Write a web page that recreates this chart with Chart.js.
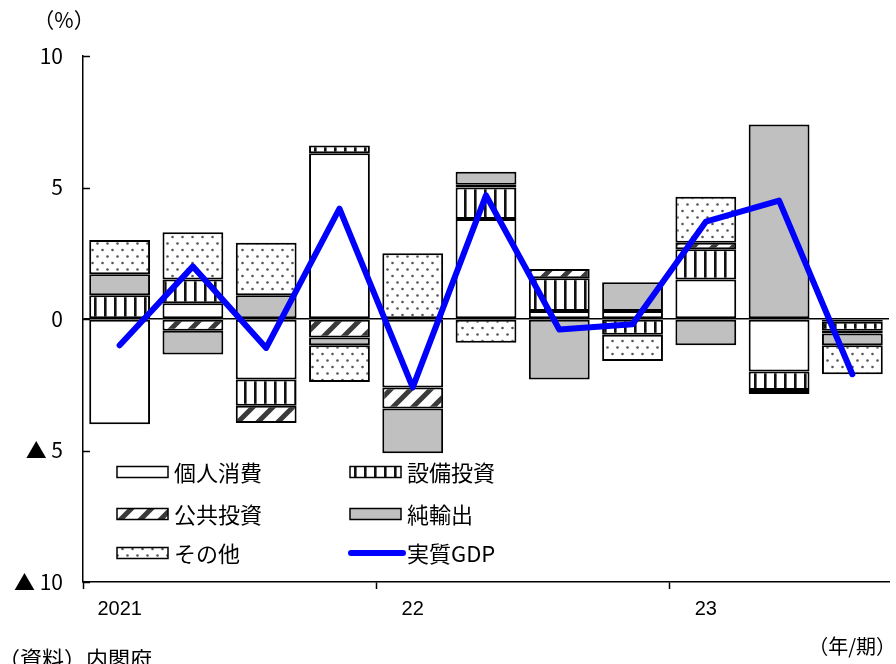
<!DOCTYPE html>
<html lang="ja">
<head>
<meta charset="utf-8">
<script src="https://cdn.jsdelivr.net/npm/chart.js@4.4.1/dist/chart.umd.min.js"></script>
<style>
  html, body { margin: 0; padding: 0; background: #fff; }
  #wrap { position: relative; width: 896px; height: 664px; }
</style>
</head>
<body>
<div id="wrap"><canvas id="c" width="896" height="664"></canvas></div>
<script>
// Quarterly contributions to real GDP growth (annualised, %)
const quarters = ['2021/1-3', '2021/4-6', '2021/7-9', '2021/10-12',
                  '2022/1-3', '2022/4-6', '2022/7-9', '2022/10-12',
                  '2023/1-3', '2023/4-6', '2023/7-9'];
const yearTickLabels = ['2021', '', '', '', '22', '', '', '', '23', '', ''];

const consumption = [-4.0, 0.6, -2.3, 6.3, -2.6, 3.8, 0.3, 0.3, 1.5, -2.0, -0.1];
const capex       = [0.9, 0.9, -1.0, 0.3, null, 1.2, 1.25, -0.6, 1.15, -0.7, -0.35];
const publicInv   = [null, -0.45, -0.65, -0.7, -0.8, 0.1, 0.35, null, 0.25, null, -0.1];
const netExports  = [0.8, -0.9, 0.9, -0.3, -1.7, 0.5, -2.3, 1.1, -1.0, 7.4, -0.45];
const others      = [1.3, 1.8, 2.0, -1.4, 2.5, -0.9, null, -1.0, 1.75, -0.15, -1.1];
const realGdp     = [-1.0, 2.0, -1.1, 4.2, -2.6, 4.7, -0.4, -0.2, 3.7, 4.5, -2.1];

const seriesNames = ['個人消費', '設備投資', '公共投資', '純輸出', 'その他', '実質GDP'];

const FONT = "'Liberation Sans', 'Noto Sans CJK JP', sans-serif";
const JFONT = "'Noto Sans CJK JP', 'Liberation Sans', sans-serif";

// ---- fill patterns ----
function makeTile(w, h, draw) {
  const cv = document.createElement('canvas');
  cv.width = w; cv.height = h;
  const g = cv.getContext('2d');
  g.fillStyle = '#fff';
  g.fillRect(0, 0, w, h);
  draw(g);
  return document.getElementById('c').getContext('2d').createPattern(cv, 'repeat');
}
const vStripes = makeTile(10, 10, g => {
  g.fillStyle = '#111';
  g.fillRect(4, 0, 2.6, 10);
});
const diagStripes = makeTile(20, 20, g => {
  g.strokeStyle = '#3a3a3a';
  g.lineWidth = 5;
  g.beginPath();
  for (let k = -1; k <= 1; k++) {
    g.moveTo(-5 + k * 20, 25);
    g.lineTo(25 + k * 20, -5);
  }
  g.stroke();
});
const dots = makeTile(10, 13, g => {
  g.fillStyle = '#555';
  g.beginPath(); g.arc(2.5, 3, 1.3, 0, Math.PI * 2); g.fill();
  g.beginPath(); g.arc(7.5, 9.5, 1.3, 0, Math.PI * 2); g.fill();
});

const barStyle = {
  type: 'bar',
  borderColor: '#000',
  borderWidth: 2,
  borderSkipped: false,
  order: 1,
  barPercentage: 0.83,
  categoryPercentage: 1.0
};

const datasets = [
  Object.assign({}, barStyle, { label: seriesNames[0], data: consumption, backgroundColor: '#ffffff' }),
  Object.assign({}, barStyle, { label: seriesNames[1], data: capex, backgroundColor: vStripes }),
  Object.assign({}, barStyle, { label: seriesNames[2], data: publicInv, backgroundColor: diagStripes }),
  Object.assign({}, barStyle, { label: seriesNames[3], data: netExports, backgroundColor: '#c0c0c0' }),
  Object.assign({}, barStyle, { label: seriesNames[4], data: others, backgroundColor: dots }),
  {
    type: 'line', label: seriesNames[5], data: realGdp, stack: 'gdp',
    borderColor: '#0000ff', borderWidth: 6, pointRadius: 0, tension: 0,
    fill: false, borderCapStyle: 'round', borderJoinStyle: 'round', order: 0
  }
];

// inward y tick marks, legend block and free-standing notes
const decorations = {
  id: 'decorations',
  afterDraw(chart) {
    const { ctx, chartArea, scales: { y } } = chart;
    ctx.save();
    ctx.strokeStyle = '#000';
    ctx.lineWidth = 1.5;
    y.ticks.forEach(t => {
      const py = Math.round(y.getPixelForValue(t.value)) + 0.5;
      ctx.beginPath();
      ctx.moveTo(chartArea.left, py);
      ctx.lineTo(chartArea.left + 7, py);
      ctx.stroke();
    });

    // legend: two columns, three rows
    const cols = [117, 350];
    const rows = [472, 514, 553];
    chart.data.datasets.forEach((ds, i) => {
      const x = cols[i % 2];
      const yy = rows[Math.floor(i / 2)];
      if (ds.type === 'line') {
        ctx.strokeStyle = ds.borderColor;
        ctx.lineWidth = 6;
        ctx.lineCap = 'round';
        ctx.beginPath();
        ctx.moveTo(x + 1, yy);
        ctx.lineTo(x + 53, yy);
        ctx.stroke();
      } else {
        ctx.fillStyle = ds.backgroundColor;
        ctx.fillRect(x, yy - 5.5, 51, 11);
        ctx.strokeStyle = '#000';
        ctx.lineWidth = 1.5;
        ctx.strokeRect(x, yy - 5.5, 51, 11);
      }
      ctx.fillStyle = '#000';
      ctx.font = '22px ' + JFONT;
      ctx.textAlign = 'left';
      ctx.textBaseline = 'middle';
      ctx.fillText(ds.label, x + 57, yy + 1);
    });

    ctx.fillStyle = '#000';
    ctx.textBaseline = 'middle';
    ctx.font = '21px ' + JFONT;
    ctx.textAlign = 'center';
    ctx.fillText('（%）', 64, 20);
    ctx.textAlign = 'right';
    ctx.font = '20px ' + JFONT;
    ctx.fillText('（年/期）', 896, 646);
    ctx.textAlign = 'left';
    ctx.font = '22px ' + JFONT;
    ctx.fillText('（資料）内閣府', -2, 659);
    ctx.restore();
  }
};

new Chart(document.getElementById('c'), {
  data: { labels: quarters, datasets },
  options: {
    responsive: false,
    animation: false,
    layout: { padding: { left: 0, top: 56, right: 7, bottom: 0 } },
    plugins: { legend: { display: false }, tooltip: { enabled: false } },
    scales: {
      x: {
        stacked: true,
        offset: true,
        border: { display: true, color: '#000', width: 1.5 },
        grid: {
          offset: true,
          drawOnChartArea: false,
          drawTicks: true,
          tickLength: 7,
          tickWidth: 1.5,
          color: 'rgba(0,0,0,0)',
          tickColor: c => (yearTickLabels[c.index] ? '#000' : 'rgba(0,0,0,0)')
        },
        ticks: {
          autoSkip: false,
          maxRotation: 0,
          padding: 8,
          color: '#000',
          font: { family: FONT, size: 20 },
          callback: (v, i) => yearTickLabels[i]
        },
        afterFit: s => { s.height = 82; }
      },
      y: {
        stacked: true,
        min: -10,
        max: 10,
        border: { display: true, color: '#000', width: 1.5 },
        grid: {
          drawTicks: false,
          lineWidth: 1.5,
          color: c => (c.tick && c.tick.value === 0 ? '#000' : 'rgba(0,0,0,0)')
        },
        ticks: {
          stepSize: 5,
          padding: 20,
          color: '#000',
          font: { family: JFONT, size: 21 },
          callback: v => (v < 0 ? '▲ ' + Math.abs(v) : String(v))
        },
        afterFit: s => { s.width = 83; }
      }
    }
  },
  plugins: [decorations]
});
</script>
</body>
</html>
